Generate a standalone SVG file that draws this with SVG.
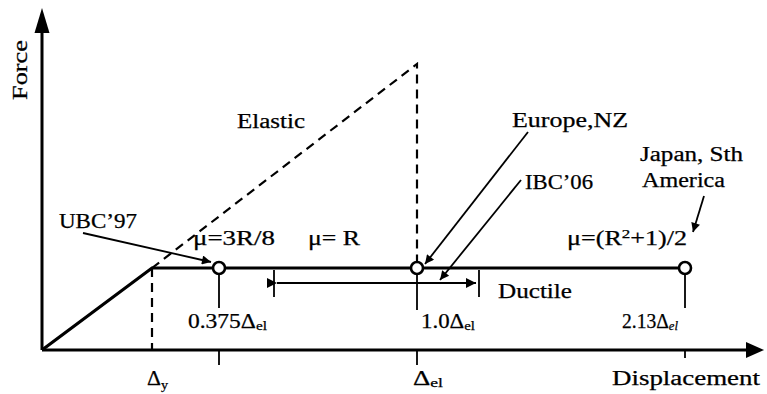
<svg xmlns="http://www.w3.org/2000/svg" width="767" height="394" viewBox="0 0 767 394">
<defs>
<marker id="ah" viewBox="0 0 10 10" refX="10" refY="5" markerWidth="15" markerHeight="9" markerUnits="userSpaceOnUse" orient="auto"><path d="M0,0 L10,5 L0,10 z" fill="#000"/></marker>
<marker id="ahs" viewBox="0 0 10 10" refX="10" refY="5" markerWidth="18" markerHeight="10" markerUnits="userSpaceOnUse" orient="auto"><path d="M0,0 L10,5 L0,10 z" fill="#000"/></marker>
</defs>
<style>
text{font-family:"Liberation Serif","Times New Roman",serif;font-size:20px;fill:#000;stroke:#000;stroke-width:0.25}
.ax{stroke:#000;stroke-width:3;fill:none}
.th{stroke:#000;stroke-width:3.2;fill:none}
.dash{stroke:#000;stroke-width:2.2;fill:none;stroke-dasharray:9,6}
.thin{stroke:#000;stroke-width:1.8;fill:none}
.pt{fill:#fff;stroke:#000;stroke-width:2.6}
.sub{font-size:13px}
</style>
<rect width="767" height="394" fill="#fff"/>
<g id="axes">
<line class="ax" x1="42" y1="350" x2="42" y2="30"/>
<path d="M42,8 L34.5,33 L49.5,33 z" fill="#000"/>
<line class="ax" x1="42" y1="350" x2="748" y2="350"/>
<path d="M764,350 L746,342 L746,358 z" fill="#000"/>
<line class="thin" x1="219" y1="350" x2="219" y2="365"/>
<line class="thin" x1="417" y1="350" x2="417" y2="365"/>
<line class="thin" x1="685" y1="350" x2="685" y2="358"/>
<text x="27" y="70" text-anchor="middle" transform="rotate(-90 27 70)" textLength="60" lengthAdjust="spacingAndGlyphs">Force</text>
<text x="612" y="385" textLength="148" lengthAdjust="spacingAndGlyphs">Displacement</text>
<text x="147" y="385" textLength="21" lengthAdjust="spacingAndGlyphs">Δ<tspan class="sub" dy="4">y</tspan></text>
<text x="413" y="385" textLength="30" lengthAdjust="spacingAndGlyphs">Δ<tspan class="sub" dy="2">el</tspan></text>
</g>
<g id="response">
<polyline class="th" points="42,350 152,268 685,268"/>
<polyline class="dash" points="152,268 417,64 417,262"/>
<line class="dash" x1="152" y1="268" x2="152" y2="350"/>
<text x="237" y="128" textLength="68" lengthAdjust="spacingAndGlyphs">Elastic</text>
</g>
<g id="point1">
<line class="thin" x1="219" y1="274" x2="219" y2="308"/>
<circle class="pt" cx="219" cy="268" r="6"/>
<text x="193" y="245" textLength="82" lengthAdjust="spacingAndGlyphs">μ=3R/8</text>
<text x="188" y="328" textLength="79" lengthAdjust="spacingAndGlyphs">0.375Δ<tspan class="sub" dy="2">el</tspan></text>
</g>
<g id="point2">
<line class="thin" x1="417" y1="274" x2="417" y2="310"/>
<circle class="pt" cx="417" cy="268" r="6"/>
<text x="308" y="245" textLength="52" lengthAdjust="spacingAndGlyphs">μ= R</text>
<text x="421" y="328" textLength="54" lengthAdjust="spacingAndGlyphs">1.0Δ<tspan class="sub" dy="2">el</tspan></text>
</g>
<g id="point3">
<line class="thin" x1="685" y1="274" x2="685" y2="308"/>
<circle class="pt" cx="685" cy="268" r="6"/>
<text x="567" y="245" textLength="120" lengthAdjust="spacingAndGlyphs">μ=(R<tspan font-size="13" dy="-7">2</tspan><tspan dy="7">+1)/2</tspan></text>
<text x="622" y="328" textLength="56" lengthAdjust="spacingAndGlyphs">2.13Δ<tspan class="sub" dy="2" font-style="italic">el</tspan></text>
</g>
<g id="ductile">
<line class="thin" x1="274" y1="270" x2="274" y2="297"/>
<line class="thin" x1="479" y1="270" x2="479" y2="297"/>
<text x="498" y="298" textLength="74" lengthAdjust="spacingAndGlyphs">Ductile</text>
</g>
<g id="labels">
<text x="59" y="228" textLength="78" lengthAdjust="spacingAndGlyphs">UBC’97</text>
<text x="512" y="127" textLength="116" lengthAdjust="spacingAndGlyphs">Europe,NZ</text>
<text x="525" y="189" textLength="68" lengthAdjust="spacingAndGlyphs">IBC’06</text>
<text x="640" y="161" textLength="103" lengthAdjust="spacingAndGlyphs">Japan, Sth</text>
<text x="642" y="187" textLength="83" lengthAdjust="spacingAndGlyphs">America</text>
</g>
<g id="connectors">
<line class="thin" x1="277" y1="283" x2="476" y2="283" marker-start="url(#ahs)" marker-end="url(#ahs)"/>
<line class="thin" x1="83" y1="233" x2="211" y2="262" marker-end="url(#ah)"/>
<line class="thin" x1="528" y1="132" x2="425" y2="264" marker-end="url(#ah)"/>
<line class="thin" x1="521" y1="180" x2="440" y2="280" marker-end="url(#ah)"/>
<line class="thin" x1="704" y1="196" x2="693" y2="232" marker-end="url(#ah)"/>
</g>
</svg>
